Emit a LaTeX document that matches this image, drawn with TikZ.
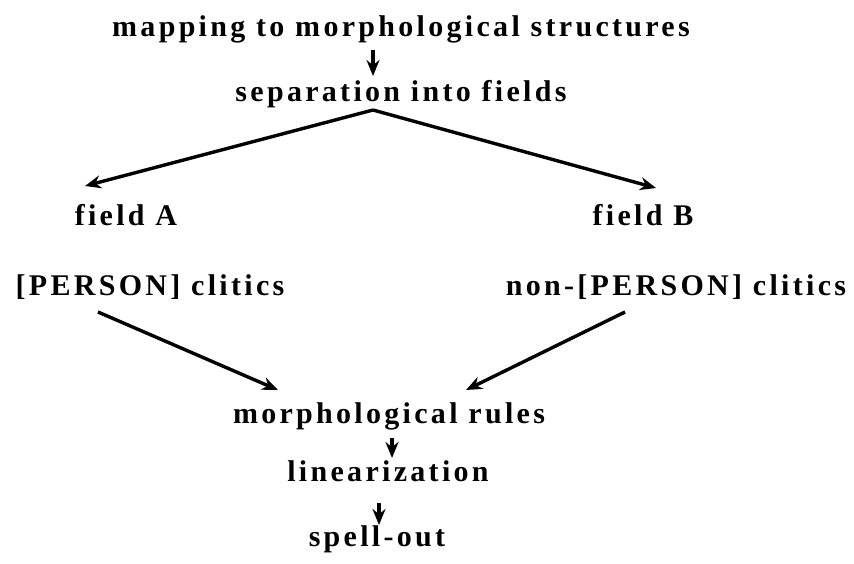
\documentclass[tikz,border=0pt]{standalone}
\usepackage{fontspec}
\setmainfont{Liberation Serif}[LetterSpace=11]
\usepackage{tikz}
\usetikzlibrary{arrows.meta}

\begin{document}
\begin{tikzpicture}[x=1pt,y=-1pt,->,>={Stealth[length=16pt,width=13pt]},line width=3.4pt,
 every node/.style={font=\fontsize{30}{32}\selectfont\bfseries, inner sep=0pt, anchor=base}]

  \useasboundingbox (0,0) rectangle (854,563);

  \node (map) at (401,36) {mapping to morphological structures};
  \node (sep) at (401,101) {separation into fields};
  \node (fa) at (126,225) {field A};
  \node (fb) at (643,225) {field B};
  \node (pers) at (150,295) {[PERSON] clitics};
  \node (npers) at (676,295) {non-[PERSON] clitics};
  \node (rules) at (389,423) {morphological rules};
  \node (lin) at (388,481) {linearization};
  \node (spell) at (377,546) {spell-out};

  \coordinate (apex) at (373,110);

  \draw (map.south -| apex) ++(0,6) -- (373,76);
  \draw[-] (sep.south -| apex) -- (apex);
  \draw (apex) -- (85,186);
  \draw (apex) -- (656,188);
  \draw (98,312) -- (278,390);
  \draw (625,312) -- (466,390);
  \draw (392,438) -- (392,458);
  \draw (379,503) -- (379,525);
 \end{tikzpicture}
\end{document}
